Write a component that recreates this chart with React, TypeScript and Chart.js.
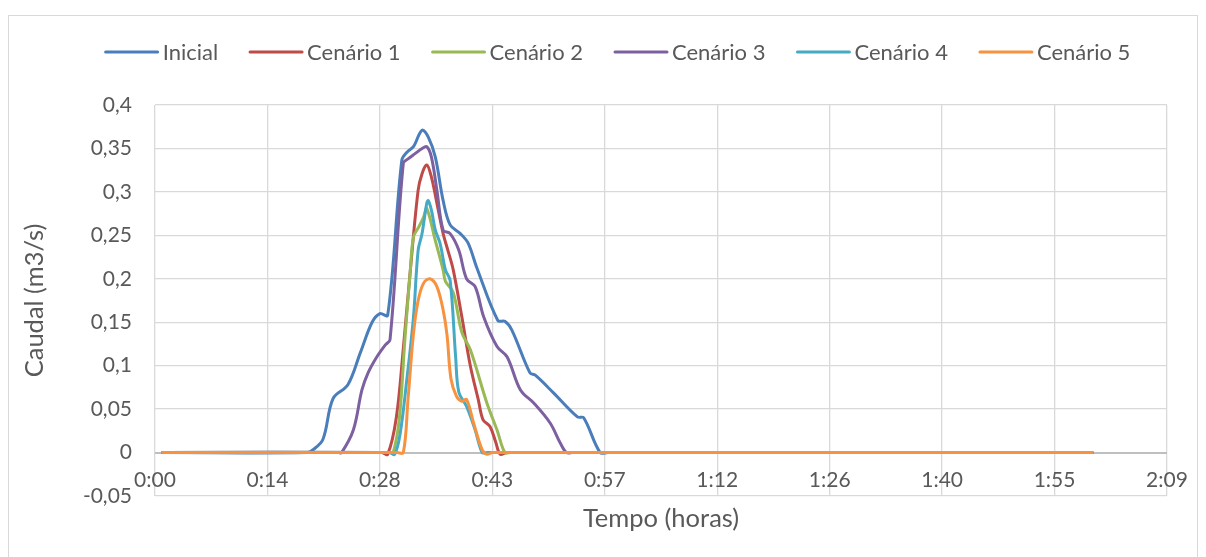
import React, { useEffect, useRef } from 'react';
import { Chart, registerables } from 'chart.js';

Chart.register(...registerables);

const seriesNames = ['Inicial', 'Cenário 1', 'Cenário 2', 'Cenário 3', 'Cenário 4', 'Cenário 5'];
const seriesColors = ['#4A7EBB', '#BE4B48', '#98B954', '#7D60A0', '#46AAC5', '#F69240'];

// time in minutes, flow in m3/s
const tInicial = [1, 19.5, 20.2, 21.5, 22.8, 24.7, 26.3, 27.8, 28.8, 29.8, 31.6, 32.3, 33.1, 34.2, 35.0, 35.9, 36.9, 37.8, 39.1, 40.1, 41.2, 43.9, 44.8, 45.7, 48.0, 48.7, 51.0, 54.1, 54.9, 57.0, 58, 120];
const qInicial = [0, 0, 0.003, 0.015, 0.062, 0.078, 0.115, 0.150, 0.160, 0.158, 0.336, 0.346, 0.352, 0.371, 0.363, 0.340, 0.290, 0.262, 0.252, 0.241, 0.213, 0.152, 0.151, 0.141, 0.092, 0.089, 0.069, 0.041, 0.040, 0, 0, 0];

const tCenario1 = [1, 29, 29.8, 30.9, 31.8, 32.7, 33.7, 34.2, 34.8, 35.4, 36.1, 36.9, 37.5, 38.2, 39.3, 40.4, 41.4, 42.0, 42.9, 43.6, 44.2, 45, 46, 120];
const qCenario1 = [0, 0, -0.002, 0.04, 0.12, 0.21, 0.302, 0.321, 0.331, 0.317, 0.287, 0.252, 0.233, 0.21, 0.156, 0.099, 0.061, 0.038, 0.03, 0.013, -0.002, 0, 0, 0];

const tCenario2 = [1, 30, 30.5, 31.3, 32.0, 32.7, 33.1, 33.8, 34.4, 34.8, 35.9, 36.9, 37.2, 38.2, 39.3, 40.4, 42.5, 43.8, 44.8, 45.5, 120];
const qCenario2 = [0, 0, 0, 0.04, 0.13, 0.21, 0.248, 0.26, 0.271, 0.281, 0.244, 0.21, 0.197, 0.184, 0.138, 0.118, 0.057, 0.026, 0, 0, 0];

const tCenario3 = [1, 23.5, 23.9, 25.4, 26.5, 27.3, 28.4, 29.5, 30.1, 31.8, 32.4, 33.3, 34.2, 34.8, 35.4, 36.1, 36.9, 37.8, 38.9, 39.9, 41.0, 42.1, 43.8, 45.1, 46.8, 48.5, 50.6, 51.9, 52.7, 53.5, 120];
const qCenario3 = [0, 0, 0, 0.026, 0.072, 0.092, 0.11, 0.124, 0.13, 0.333, 0.338, 0.344, 0.35, 0.352, 0.34, 0.302, 0.256, 0.252, 0.233, 0.2, 0.191, 0.156, 0.122, 0.11, 0.072, 0.057, 0.034, 0.011, 0, 0, 0];

const tCenario4 = [1, 30, 30.7, 31.4, 32.2, 33.1, 33.7, 34.2, 34.8, 35.0, 35.4, 35.9, 36.5, 37.2, 37.8, 38.5, 38.9, 39.9, 41.0, 41.9, 42.5, 120];
const qCenario4 = [0, 0, -0.002, 0.022, 0.08, 0.156, 0.233, 0.252, 0.287, 0.29, 0.279, 0.256, 0.241, 0.21, 0.198, 0.11, 0.07, 0.053, 0.026, 0, 0, 0];

const tCenario5 = [1, 31, 31.8, 32.4, 33.1, 33.7, 34.4, 35.2, 36.1, 36.9, 37.4, 37.9, 38.6, 39.3, 39.9, 40.8, 41.9, 42.5, 43.2, 44, 120];
const qCenario5 = [0, 0, 0, 0.061, 0.137, 0.175, 0.195, 0.2, 0.191, 0.164, 0.135, 0.085, 0.065, 0.059, 0.061, 0.034, 0.003, -0.002, 0, 0, 0];

const xTickMinutes = [0, 14.4, 28.8, 43.2, 57.6, 72, 86.4, 100.8, 115.2, 129.6];
const xTickLabels = ['0:00', '0:14', '0:28', '0:43', '0:57', '1:12', '1:26', '1:40', '1:55', '2:09'];
const yTickValues = [-0.05, 0, 0.05, 0.1, 0.15, 0.2, 0.25, 0.3, 0.35, 0.4];
const yTickLabels = ['-0,05', '0', '0,05', '0,1', '0,15', '0,2', '0,25', '0,3', '0,35', '0,4'];

const allTimes = [tInicial, tCenario1, tCenario2, tCenario3, tCenario4, tCenario5];
const allFlows = [qInicial, qCenario1, qCenario2, qCenario3, qCenario4, qCenario5];

const FONT = 'Lato, "Open Sans", sans-serif';
const TEXT = '#595959';
const GRID = '#D9D9D9';

const legendPlugin = {
  id: 'excelLegend',
  afterDraw(chart: any) {
    const ctx = chart.ctx;
    ctx.save();
    ctx.font = `22px ${FONT}`;
    const lineLen = 52;
    const gap = 5;
    const itemGap = 32;
    const widths = seriesNames.map((n) => lineLen + gap + ctx.measureText(n).width);
    const total = widths.reduce((a, b) => a + b, 0) + itemGap * (widths.length - 1);
    let x = 618 - total / 2;
    const y = 52;
    seriesNames.forEach((name, i) => {
      ctx.strokeStyle = seriesColors[i];
      ctx.lineWidth = 3;
      ctx.lineCap = 'round';
      ctx.beginPath();
      ctx.moveTo(x, y);
      ctx.lineTo(x + lineLen, y);
      ctx.stroke();
      ctx.fillStyle = TEXT;
      ctx.textBaseline = 'middle';
      ctx.textAlign = 'left';
      ctx.fillText(name, x + lineLen + gap, y + 1);
      x += widths[i] + itemGap;
    });
    ctx.restore();
  },
};

export default function App() {
  const ref = useRef<HTMLCanvasElement | null>(null);

  useEffect(() => {
    if (!ref.current) return;
    const datasets = seriesNames.map((name, i) => ({
      label: name,
      data: allTimes[i].map((t, j) => ({ x: t, y: allFlows[i][j] })),
      borderColor: seriesColors[i],
      backgroundColor: seriesColors[i],
      borderWidth: 3,
      pointRadius: 0,
      tension: 0.35,
      borderCapStyle: 'round' as const,
      borderJoinStyle: 'round' as const,
      fill: false,
      order: seriesNames.length - i,
    }));

    const chart = new Chart(ref.current, {
      type: 'line',
      data: { datasets },
      plugins: [legendPlugin],
      options: {
        responsive: false,
        animation: false,
        events: [],
        layout: { padding: { left: 0, right: 39, top: 105, bottom: 0 } },
        plugins: { legend: { display: false }, tooltip: { enabled: false } },
        scales: {
          x: {
            type: 'linear',
            min: 0,
            max: 129.6,
            afterBuildTicks: (s: any) => {
              s.ticks = xTickMinutes.map((v) => ({ value: v }));
            },
            afterFit: (s: any) => {
              s.height = 61;
            },
            ticks: {
              autoSkip: false,
              maxRotation: 0,
              mirror: true,
              padding: 3,
              color: TEXT,
              font: { family: FONT, size: 21 },
              callback: (_v: any, i: number) => xTickLabels[i],
            },
            grid: { color: GRID, lineWidth: 1.3, drawTicks: false },
            border: { display: false },
            title: {
              display: true,
              text: 'Tempo (horas)',
              color: TEXT,
              font: { family: FONT, size: 25.5 },
              padding: { top: 0, bottom: 22.7 },
            },
          },
          y: {
            type: 'linear',
            min: -0.05,
            max: 0.4,
            afterBuildTicks: (s: any) => {
              s.ticks = yTickValues.map((v) => ({ value: v }));
            },
            afterFit: (s: any) => {
              s.width = 155;
            },
            ticks: {
              padding: 23,
              color: TEXT,
              font: { family: FONT, size: 21 },
              callback: (_v: any, i: number) => yTickLabels[i],
            },
            grid: {
              color: (c: any) => (c.tick && Math.abs(c.tick.value) < 1e-9 ? '#BFBFBF' : GRID),
              lineWidth: (c: any) => (c.tick && Math.abs(c.tick.value) < 1e-9 ? 2 : 1.3),
              drawTicks: false,
            },
            border: { display: false },
            title: {
              display: true,
              text: 'Caudal (m3/s)',
              color: TEXT,
              font: { family: FONT, size: 25.5 },
              padding: { top: 19.7, bottom: 0 },
            },
          },
        },
      } as any,
    });
    return () => chart.destroy();
  }, []);

  return (
    <>
      <div
        style={{
          position: 'fixed',
          left: 8,
          top: 15,
          width: 1190,
          height: 600,
          border: '1px solid #D9D9D9',
          boxSizing: 'border-box',
          background: '#fff',
        }}
      />
      <canvas
        ref={ref}
        width={1206}
        height={557}
        style={{ position: 'fixed', left: 0, top: 0, width: 1206, height: 557 }}
      />
    </>
  );
}
